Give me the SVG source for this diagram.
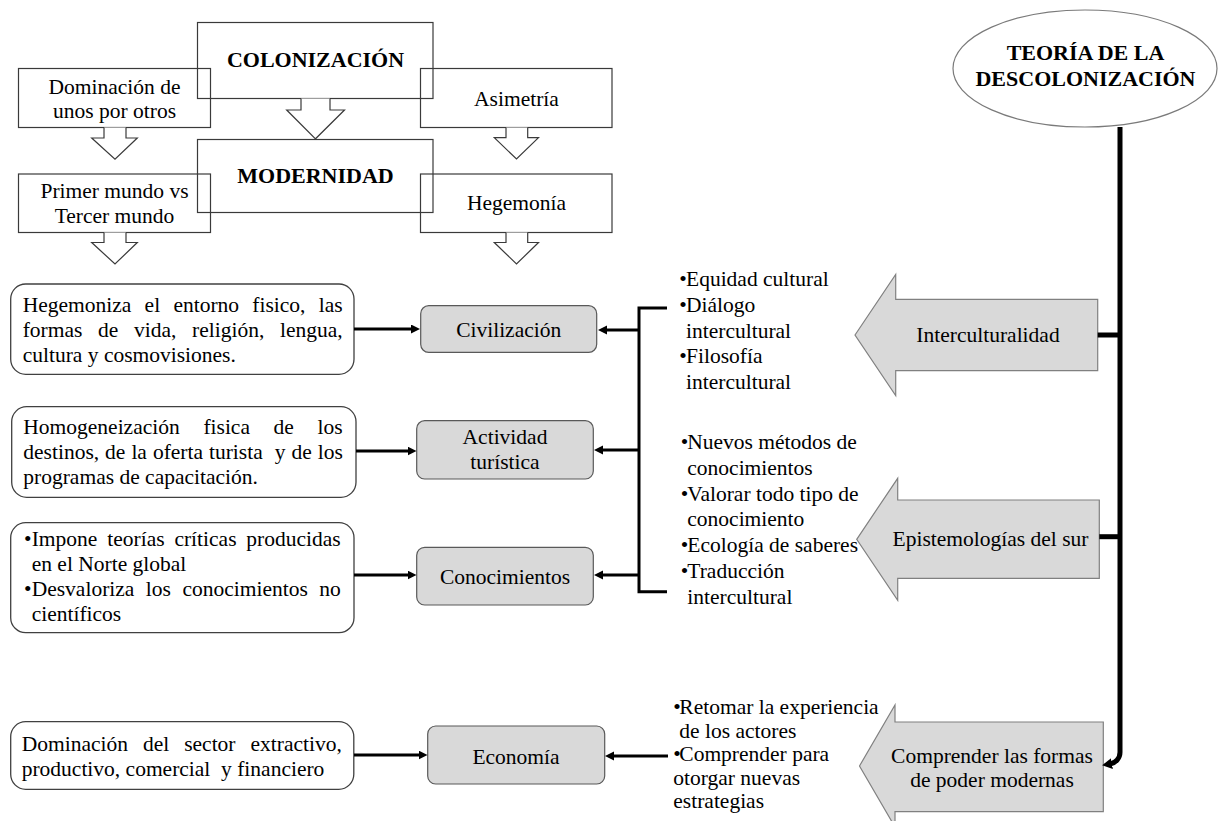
<svg xmlns="http://www.w3.org/2000/svg" width="1218" height="821" viewBox="0 0 1218 821">
  <style>
    text { font-family: "Liberation Serif", "DejaVu Serif", serif; font-size: 21.5px; fill: #000; }
    .b { font-weight: bold; font-size: 22px; }
    .c { text-anchor: middle; }
    .frame { fill: none; stroke: #3a3a3a; stroke-width: 1.2; }
    .down { fill: #fff; stroke: #3a3a3a; stroke-width: 1.2; }
    .note { fill: #fff; stroke: #404040; stroke-width: 1.3; }
    .topic { fill: #d9d9d9; stroke: #595959; stroke-width: 1.2; }
    .block { fill: #d9d9d9; stroke: #808080; stroke-width: 1.2; }
    .link { fill: none; stroke: #000; stroke-width: 3; }
    .trunk { fill: none; stroke: #000; stroke-width: 5; }
  </style>
  <defs>
    <marker id="head" markerUnits="userSpaceOnUse" markerWidth="10" markerHeight="10" refX="3" refY="4.5" orient="auto">
      <path d="M0,0 L9,4.5 L0,9 Z" fill="#000"/>
    </marker>
    <marker id="headBig" markerUnits="userSpaceOnUse" markerWidth="12" markerHeight="12" refX="2" refY="5.5" orient="auto">
      <path d="M0,0 L10,5.5 L0,11 Z" fill="#000"/>
    </marker>
  </defs>

  <!-- upper chain: colonización / modernidad -->
  <g id="colonizacion">
    <rect class="frame" x="197.5" y="22.5" width="235.5" height="76"/>
    <text class="b c" x="315.5" y="67">COLONIZACIÓN</text>
  </g>
  <g id="dominacion">
    <rect class="frame" x="18.5" y="68.5" width="192" height="59"/>
    <text class="c" x="114.5" y="93.5">Dominación de</text>
    <text class="c" x="114.5" y="117.5">unos por otros</text>
  </g>
  <g id="asimetria">
    <rect class="frame" x="420.5" y="68.5" width="191.5" height="59"/>
    <text class="c" x="516.5" y="105.5">Asimetría</text>
  </g>
  <g id="modernidad">
    <rect class="frame" x="197.5" y="139.5" width="235.5" height="73"/>
    <text class="b c" x="315.5" y="183">MODERNIDAD</text>
  </g>
  <g id="primer-tercer">
    <rect class="frame" x="18.5" y="174" width="192" height="58.5"/>
    <text class="c" x="114.5" y="198">Primer mundo vs</text>
    <text class="c" x="114.5" y="222.5">Tercer mundo</text>
  </g>
  <g id="hegemonia">
    <rect class="frame" x="420.5" y="174" width="191.5" height="58.5"/>
    <text class="c" x="516.5" y="210">Hegemonía</text>
  </g>

  <!-- hollow down arrows -->
  <g id="down-arrows">
    <path class="down" d="M104,127.5 V138 H91.7 L115,159.3 L137.3,138 H126 V127.5"/>
    <path class="down" d="M301,98.5 V110 H286.7 L315.5,138.8 L344.5,110 H330 V98.5"/>
    <path class="down" d="M506,127.5 V137.7 H494.3 L516.5,159 L538.5,137.7 H527.7 V127.5"/>
    <path class="down" d="M104,232.5 V242.5 H91.7 L115,264 L137.3,242.5 H126 V232.5"/>
    <path class="down" d="M506,232.5 V242.5 H494.3 L516.5,264 L538.5,242.5 H527.7 V232.5"/>
  </g>

  <!-- descriptive notes (left column) -->
  <g id="nota-civilizacion">
    <rect class="note" x="10.7" y="284" width="343.3" height="90.3" rx="15"/>
    <text x="22.7" y="311.5" style="word-spacing:7.9px">Hegemoniza el entorno fisico, las</text>
    <text x="22.7" y="336.5" style="word-spacing:10.3px">formas de vida, religión, lengua,</text>
    <text x="22.7" y="361.5">cultura y cosmovisiones.</text>
  </g>
  <g id="nota-turismo">
    <rect class="note" x="11.7" y="406.7" width="344.3" height="90.6" rx="15"/>
    <text x="23.3" y="434" style="word-spacing:18.3px">Homogeneización fisica de los</text>
    <text x="23.3" y="459" style="word-spacing:0.6px">destinos, de la oferta turista&#160; y de los</text>
    <text x="23.3" y="484">programas de capacitación.</text>
  </g>
  <g id="nota-conocimientos">
    <rect class="note" x="10.7" y="522.7" width="343.3" height="110" rx="15"/>
    <text x="24" y="546">•</text>
    <text x="31.7" y="546" style="word-spacing:4.5px">Impone teorías críticas producidas</text>
    <text x="31.7" y="571">en el Norte global</text>
    <text x="24" y="596">•</text>
    <text x="31.7" y="596" style="word-spacing:6.1px">Desvaloriza los conocimientos no</text>
    <text x="31.7" y="621">científicos</text>
  </g>
  <g id="nota-economia">
    <rect class="note" x="10.7" y="721.7" width="343.1" height="67.6" rx="15"/>
    <text x="21.7" y="751" style="word-spacing:9.6px">Dominación del sector extractivo,</text>
    <text x="21.7" y="776">productivo, comercial&#160; y financiero</text>
  </g>

  <!-- grey topic boxes -->
  <g id="civilizacion">
    <rect class="topic" x="420.7" y="305.7" width="176" height="46.6" rx="8"/>
    <text class="c" x="508.7" y="337">Civilización</text>
  </g>
  <g id="actividad-turistica">
    <rect class="topic" x="416.7" y="420.7" width="176.6" height="58.3" rx="8"/>
    <text class="c" x="505" y="443.5">Actividad</text>
    <text class="c" x="505" y="469">turística</text>
  </g>
  <g id="conocimientos">
    <rect class="topic" x="416.7" y="547.3" width="176.6" height="57.7" rx="8"/>
    <text class="c" x="505" y="583.5">Conocimientos</text>
  </g>
  <g id="economia">
    <rect class="topic" x="427.7" y="726" width="177" height="58" rx="8"/>
    <text class="c" x="516" y="763.5">Economía</text>
  </g>

  <!-- bullet lists beside the block arrows -->
  <g id="lista-interculturalidad">
    <text x="679.3" y="286">•</text><text x="686" y="286">Equidad cultural</text>
    <text x="679.3" y="311.8">•</text><text x="686" y="311.8">Diálogo</text>
    <text x="686" y="337.6">intercultural</text>
    <text x="679.3" y="363.4">•</text><text x="686" y="363.4">Filosofía</text>
    <text x="686" y="389.2">intercultural</text>
  </g>
  <g id="lista-epistemologias">
    <text x="680.7" y="449">•</text><text x="687.3" y="449">Nuevos métodos de</text>
    <text x="687.3" y="474.8">conocimientos</text>
    <text x="680.7" y="500.6">•</text><text x="687.3" y="500.6">Valorar todo tipo de</text>
    <text x="687.3" y="526.4">conocimiento</text>
    <text x="680.7" y="552.2">•</text><text x="687.3" y="552.2">Ecología de saberes</text>
    <text x="680.7" y="578">•</text><text x="687.3" y="578">Traducción</text>
    <text x="687.3" y="603.8">intercultural</text>
  </g>
  <g id="lista-poder">
    <text x="673.3" y="714">•</text><text x="679.3" y="714">Retomar la experiencia</text>
    <text x="679.3" y="737.5">de los actores</text>
    <text x="673.3" y="761">•</text><text x="679.3" y="761">Comprender para</text>
    <text x="673.3" y="784.5">otorgar nuevas</text>
    <text x="673.3" y="808">estrategias</text>
  </g>

  <!-- block arrows -->
  <g id="interculturalidad">
    <path class="block" d="M855,335 L895.7,274.5 V299.3 H1097.7 V370.7 H895.7 V395.5 Z"/>
    <text class="c" x="988" y="342">Interculturalidad</text>
  </g>
  <g id="epistemologias">
    <path class="block" d="M856.7,539.3 L897.7,478.3 V500 H1099.3 V578.3 H897.7 V600.3 Z"/>
    <text class="c" x="990.5" y="546">Epistemologías del sur</text>
  </g>
  <g id="formas-de-poder">
    <path class="block" d="M859.5,766 L895,705 V722 H1103.3 V811.7 H895 V827 Z"/>
    <text class="c" x="992" y="763">Comprender las formas</text>
    <text class="c" x="992" y="787">de poder modernas</text>
  </g>

  <!-- root -->
  <g id="teoria-descolonizacion">
    <ellipse cx="1085" cy="68.5" rx="132" ry="58.5" fill="#fff" stroke="#7a7a7a" stroke-width="1.2"/>
    <text class="b c" x="1085.5" y="60">TEORÍA DE LA</text>
    <text class="b c" x="1085.5" y="86">DESCOLONIZACIÓN</text>
  </g>

  <!-- connectors -->
  <g id="connectors">
    <path class="trunk" d="M1120,127 V752 A12,12 0 0 1 1110,764" marker-end="url(#headBig)"/>
    <path class="trunk" d="M1097.7,335 H1120"/>
    <path class="trunk" d="M1099.3,536.7 H1120"/>

    <path class="link" d="M667,308 H639 V591.7 H667"/>
    <path class="link" d="M639,330 H604" marker-end="url(#head)"/>
    <path class="link" d="M639,450 H600" marker-end="url(#head)"/>
    <path class="link" d="M639,575 H600" marker-end="url(#head)"/>
    <path class="link" d="M668,756 H611" marker-end="url(#head)"/>

    <path class="link" d="M354,329 H414" marker-end="url(#head)"/>
    <path class="link" d="M356,451 H410.5" marker-end="url(#head)"/>
    <path class="link" d="M354,575 H410.5" marker-end="url(#head)"/>
    <path class="link" d="M354,755 H421.5" marker-end="url(#head)"/>
  </g>
</svg>
